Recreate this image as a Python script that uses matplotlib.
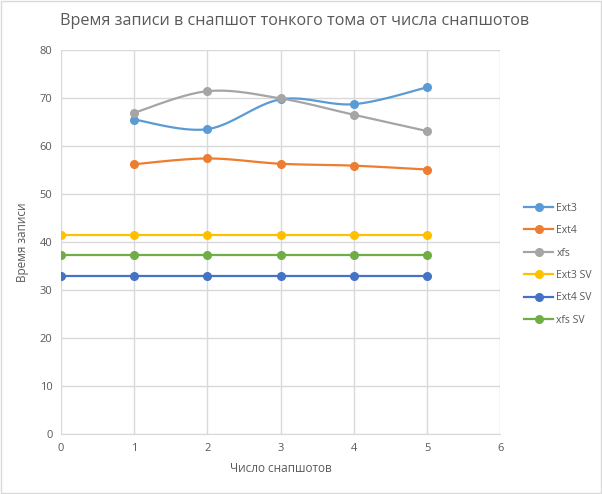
import numpy as np
import matplotlib
matplotlib.use("Agg")
import matplotlib.pyplot as plt
from matplotlib.lines import Line2D
from matplotlib.patches import Rectangle

plt.rcParams["font.family"] = ["Open Sans", "DejaVu Sans"]

# data
snapshots = [1, 2, 3, 4, 5]
ext3 = [65.5, 63.5, 69.7, 68.7, 72.2]
ext4 = [56.2, 57.4, 56.3, 55.9, 55.1]
xfs = [66.9, 71.4, 69.9, 66.5, 63.1]

sv_x = [0, 1, 2, 3, 4, 5]
ext3_sv = [41.5, 41.5, 41.5, 41.5, 41.5, 41.5]
ext4_sv = [33.0, 33.0, 33.0, 33.0, 33.0, 33.0]
xfs_sv = [37.4, 37.4, 37.4, 37.4, 37.4, 37.4]

TEXT = "#595959"
GRID = "#d9d9d9"


def smooth(xs, ys, n=30):
    # bezier smoothing like excel's "smoothed line"
    xs = np.asarray(xs, float)
    ys = np.asarray(ys, float)
    px, py = [], []
    for i in range(len(xs) - 1):
        x0, y0 = (xs[i - 1], ys[i - 1]) if i > 0 else (xs[i], ys[i])
        x3, y3 = (xs[i + 2], ys[i + 2]) if i + 2 < len(xs) else (xs[i + 1], ys[i + 1])
        x1, y1 = xs[i], ys[i]
        x2, y2 = xs[i + 1], ys[i + 1]
        c1 = (x1 + (x2 - x0) / 6, y1 + (y2 - y0) / 6)
        c2 = (x2 - (x3 - x1) / 6, y2 - (y3 - y1) / 6)
        t = np.linspace(0, 1, n)
        bx = (1 - t) ** 3 * x1 + 3 * (1 - t) ** 2 * t * c1[0] + 3 * (1 - t) * t ** 2 * c2[0] + t ** 3 * x2
        by = (1 - t) ** 3 * y1 + 3 * (1 - t) ** 2 * t * c1[1] + 3 * (1 - t) * t ** 2 * c2[1] + t ** 3 * y2
        px.extend(bx)
        py.extend(by)
    return px, py


fig = plt.figure(figsize=(6.02, 4.94), dpi=100)
ax = fig.add_axes([0.101, 0.121, 0.730, 0.778])

series = [
    ("Ext3", snapshots, ext3, "#5b9bd5", True),
    ("Ext4", snapshots, ext4, "#ed7d31", True),
    ("xfs", snapshots, xfs, "#a5a5a5", True),
    ("Ext3 SV", sv_x, ext3_sv, "#ffc000", False),
    ("Ext4 SV", sv_x, ext4_sv, "#4472c4", False),
    ("xfs SV", sv_x, xfs_sv, "#70ad47", False),
]

handles = []
for label, xs, ys, color, sm in series:
    if sm:
        sx, sy = smooth(xs, ys)
    else:
        sx, sy = xs, ys
    ax.plot(sx, sy, color=color, lw=1.6, zorder=3, solid_capstyle="round")
    ax.plot(xs, ys, "o", color=color, ms=5.5, zorder=4)
    handles.append(Line2D([0], [0], color=color, lw=1.6, marker="o", ms=5.5))

ax.set_xlim(0, 6)
ax.set_ylim(0, 80)
ax.set_xticks(range(0, 7))
ax.set_yticks(range(0, 81, 10))
ax.grid(True, color=GRID, lw=1, zorder=0)
ax.set_axisbelow(True)
for s in ["top", "right", "left"]:
    ax.spines[s].set_visible(False)
ax.spines["bottom"].set_color(GRID)
ax.tick_params(length=0, colors=TEXT, labelsize=8, pad=6)

fig.text(0.49, 0.958, "Время записи в снапшот тонкого тома от числа снапшотов",
         fontsize=11.6, color=TEXT, ha="center", va="center")
ax.set_xlabel("Число снапшотов", fontsize=8.5, color=TEXT, labelpad=6)
ax.set_ylabel("Время записи", fontsize=8.5, color=TEXT, labelpad=8)

fig.legend(handles, [s[0] for s in series], loc="center left",
           bbox_to_anchor=(0.855, 0.465), frameon=False, fontsize=7.5,
           labelcolor=TEXT, handlelength=2.8, labelspacing=1.1,
           handletextpad=0.3)

fig.patches.append(Rectangle((0.002, 0.002), 0.996, 0.996, transform=fig.transFigure,
                             fill=False, edgecolor="#d9d9d9", lw=1))

fig.savefig("out.png", dpi=100)
